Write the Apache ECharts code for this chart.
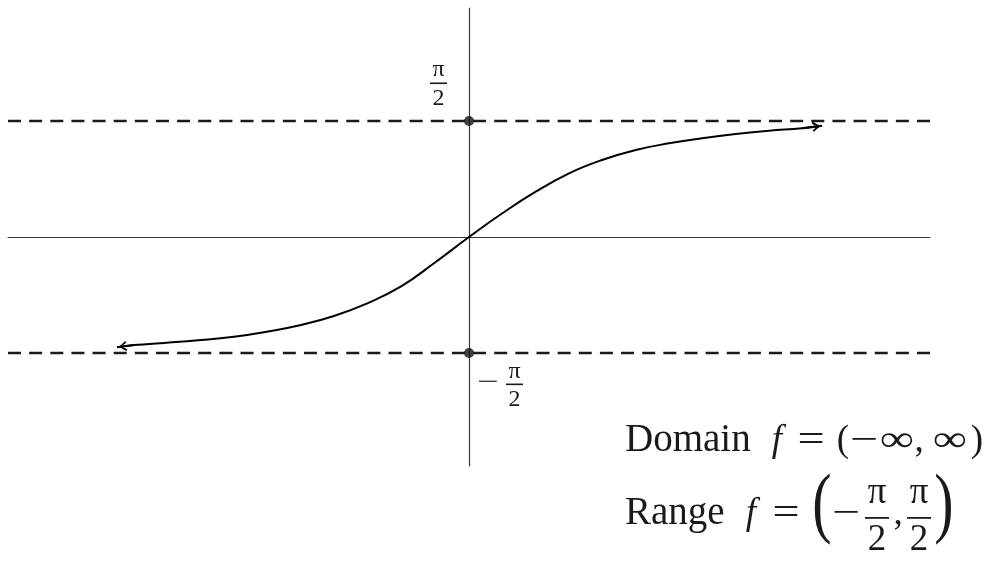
<!DOCTYPE html>
<html>
<head>
<meta charset="utf-8">
<script src="https://cdn.jsdelivr.net/npm/echarts@6/dist/echarts.min.js"></script>
<style>
  html, body { margin: 0; padding: 0; background: #fff; }
  #chart { width: 993px; height: 561px; }
</style>
</head>
<body>
<div id="chart"></div>
<script>
// y = arctan-shaped curve, sampled points (x, y)
const curveX = [-4.765, -4.535, -4.088, -3.628, -3.181, -2.735, -2.274, -1.828, -1.377, -0.925, -0.474,
                0, 0.451, 0.903, 1.354, 1.800, 2.257, 2.707, 3.154, 3.610, 4.061, 4.508, 4.779];
const curveY = [-1.493, -1.462, -1.431, -1.394, -1.350, -1.282, -1.191, -1.069, -0.898, -0.673, -0.356,
                0, 0.321, 0.613, 0.862, 1.042, 1.178, 1.268, 1.336, 1.394, 1.439, 1.471, 1.507];

// horizontal asymptotes y = ±π/2 and their marked points on the y-axis
const HALF_PI = Math.PI / 2;
const asymptotes = [HALF_PI, -HALF_PI];
const axisDots = [[0, HALF_PI], [0, -HALF_PI]];

// arrowhead segments at both ends of the curve: [from, to]
const arrowLeft = [[-4.535, -1.462], [-4.698, -1.484]];
const arrowRight = [[4.508, 1.471], [4.712, 1.498]];

const X_RANGE = [-6.24, 6.24];
const Y_RANGE = [-3.1, 3.1];

const INK = '#1a1a1a';
const SERIF = '"Liberation Serif", "DejaVu Serif", serif';
// open, slightly curved arrow tip pointing up (rotated by markLine)
const arrowPath = 'path://M5,0 C5.6,3 7.6,6.5 10.5,9.5 L9,11 C7,8.6 5.8,6.5 5,4.5 C4.2,6.5 3,8.6 1,11 L-0.5,9.5 C2.4,6.5 4.4,3 5,0 Z';

const chart = echarts.init(document.getElementById('chart'), null, { renderer: 'canvas' });

const curveData = curveX.map((x, i) => [x, curveY[i]]);

chart.setOption({
  animation: false,
  backgroundColor: '#fff',
  grid: { left: 8, right: 63, top: 8, bottom: 95 },
  xAxis: {
    type: 'value', min: X_RANGE[0], max: X_RANGE[1],
    axisLine: { show: true, onZero: true, lineStyle: { color: '#3a3a3a', width: 1.2 } },
    axisTick: { show: false }, axisLabel: { show: false }, splitLine: { show: false }
  },
  yAxis: {
    type: 'value', min: Y_RANGE[0], max: Y_RANGE[1],
    axisLine: { show: true, onZero: true, lineStyle: { color: '#3a3a3a', width: 1.2 } },
    axisTick: { show: false }, axisLabel: { show: false }, splitLine: { show: false }
  },
  series: [
    {
      name: 'asymptotes',
      type: 'line',
      data: [],
      markLine: {
        silent: true,
        symbol: ['none', 'none'],
        label: { show: false },
        lineStyle: { color: INK, width: 2.4, type: [13, 8.14] },
        data: asymptotes.map(v => ({ yAxis: v }))
      }
    },
    {
      name: 'curve',
      type: 'line',
      data: curveData,
      smooth: 0.45,
      showSymbol: false,
      lineStyle: { color: '#000', width: 2 },
      z: 3,
      markLine: {
        silent: true,
        symbol: ['none', arrowPath],
        symbolSize: [10, 10],
        label: { show: false },
        lineStyle: { color: '#000', width: 2, type: 'solid' },
        data: [
          [{ coord: arrowLeft[0] }, { coord: arrowLeft[1] }],
          [{ coord: arrowRight[0] }, { coord: arrowRight[1] }]
        ]
      }
    },
    {
      name: 'dots',
      type: 'scatter',
      data: axisDots,
      symbolSize: 10,
      itemStyle: { color: '#111' },
      z: 5
    }
  ]
});

// text glyph placed with its centre at (x, y); optional stretch sx / sy
function txt(str, x, y, size, extra) {
  const e = extra || {};
  return {
    type: 'text', x: x, y: y, silent: true,
    scaleX: e.sx || 1, scaleY: e.sy || 1,
    style: {
      text: str, fill: INK,
      font: (e.italic ? 'italic ' : '') + size + 'px ' + SERIF,
      align: e.align || 'center', verticalAlign: 'middle',
      textAlign: e.align || 'center', textVerticalAlign: 'middle'
    }
  };
}
function bar(x, y, w, h) {
  return { type: 'rect', silent: true, shape: { x: x, y: y, width: w, height: h }, style: { fill: INK } };
}

// fraction labels at ±π/2, placed from the axis scale
const pTop = chart.convertToPixel({ gridIndex: 0 }, axisDots[0]);
const pBot = chart.convertToPixel({ gridIndex: 0 }, axisDots[1]);
const fs = 24;
const g = [
  txt('π', pTop[0] - 30.5, pTop[1] - 51, fs),
  bar(pTop[0] - 39, pTop[1] - 38.5, 17, 1.6),
  txt('2', pTop[0] - 30.5, pTop[1] - 22.7, fs),

  txt('−', pBot[0] + 19, pBot[1] + 29.2, fs, { sx: 1.6 }),
  txt('π', pBot[0] + 45.5, pBot[1] + 18.5, fs),
  bar(pBot[0] + 37, pBot[1] + 30.5, 17, 1.6),
  txt('2', pBot[0] + 45.5, pBot[1] + 47, fs)
];

// Domain / Range statements
const F = 37, W = 39;
const yD = 441, yR = 514;
g.push(
  txt('Domain', 625, yD - 0.5, W, { align: 'left' }),
  txt('f', 777, yD, F, { italic: true }),
  txt('=', 811, yD, F, { sx: 1.3 }),
  txt('(', 843, yD, F),
  txt('−', 864, yD, F, { sx: 1.35 }),
  txt('∞', 897, yD, F, { sx: 1.3 }),
  txt(',', 919, yD, F),
  txt('∞', 950, yD, F, { sx: 1.3 }),
  txt(')', 977, yD, F),

  txt('Range', 625, yR - 0.5, W, { align: 'left' }),
  txt('f', 751, yR, F, { italic: true }),
  txt('=', 786, yR, F, { sx: 1.3 }),
  txt('(', 822, 507, 58, { sy: 1.35 }),
  txt('−', 846, yR, F, { sx: 1.35 }),
  txt('π', 877, 493, F),
  bar(865, 517, 24, 1.8),
  txt('2', 877, 540, F),
  txt(',', 898, yR, F),
  txt('π', 919, 493, F),
  bar(907, 517, 24, 1.8),
  txt('2', 919, 540, F),
  txt(')', 944, 507, 58, { sy: 1.35 })
);

chart.setOption({ graphic: { elements: g } });
</script>
</body>
</html>
